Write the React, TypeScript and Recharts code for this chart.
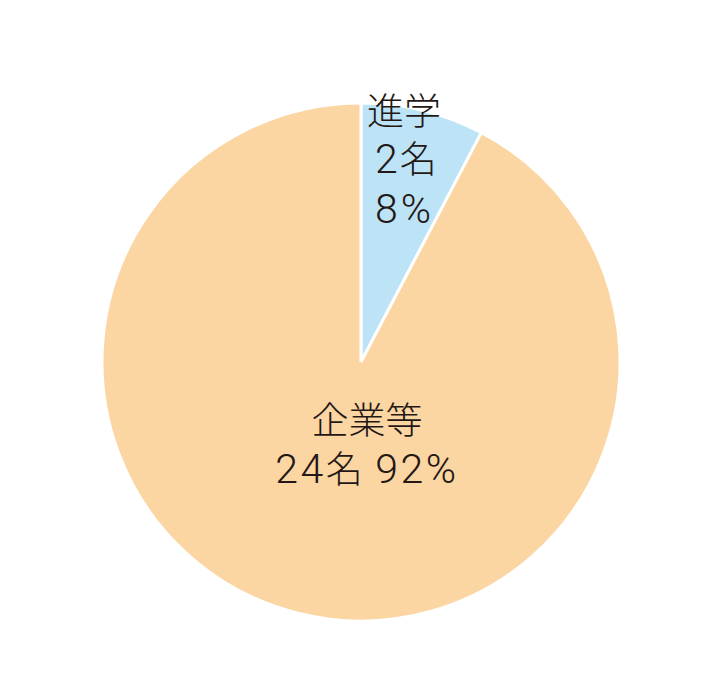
import React from 'react';
import { PieChart, Pie, Cell } from 'recharts';

const categories = ['進学', '企業等'];
const counts = [2, 24];
const percents = ['8%', '92%'];

const COLORS = ['#bde3f7', '#fbd5a2'];
const TEXT = '#231815';
const LATIN = 'Roboto, "Liberation Sans", sans-serif';
const CJK = '"Noto Sans CJK JP", sans-serif';
const KANJI_SIZE = 37;
const DIGIT_SIZE = 41;

const data = categories.map((name, i) => ({ name, value: counts[i], pct: percents[i] }));

const renderLabel = (props: any) => {
    const { cx, cy, index } = props;
    const d = data[index];
    if (index === 0) {
        const x = cx + 6;
        return (
            <text x={x} y={cy - 237} fill={TEXT} fontWeight={300} textAnchor="start">
                <tspan x={x} y={cy - 237} fontFamily={CJK} fontSize={KANJI_SIZE}>{d.name}</tspan>
                <tspan x={x + 8} y={cy - 189} fontFamily={LATIN} fontSize={DIGIT_SIZE} letterSpacing={2}>{d.value}</tspan>
                <tspan fontFamily={CJK} fontSize={KANJI_SIZE}>名</tspan>
                <tspan x={x + 8} y={cy - 139} fontFamily={LATIN} fontSize={DIGIT_SIZE} letterSpacing={3}>{d.pct}</tspan>
            </text>
        );
    }
    const x = cx + 6;
    return (
        <text x={x} y={cy + 72} fill={TEXT} fontWeight={300} textAnchor="middle">
            <tspan x={x} y={cy + 72} fontFamily={CJK} fontSize={KANJI_SIZE}>{d.name}</tspan>
            <tspan x={x} y={cy + 121} fontFamily={LATIN} fontSize={DIGIT_SIZE} letterSpacing={2.5}>{d.value}</tspan>
            <tspan fontFamily={CJK} fontSize={KANJI_SIZE}>名</tspan>
            <tspan fontFamily={LATIN} fontSize={DIGIT_SIZE} letterSpacing={2.5}>{` ${d.pct}`}</tspan>
        </text>
    );
};

const App: React.FC = () => {
    return (
        <div style={{ position: 'absolute', left: 0, top: 0, width: 720, height: 678, background: '#fff' }}>
            <PieChart width={720} height={678} margin={{ top: 0, right: 0, bottom: 0, left: 0 }}>
                <Pie
                    data={data}
                    cx={361}
                    cy={362}
                    outerRadius={259}
                    startAngle={90}
                    endAngle={-270}
                    dataKey="value"
                    nameKey="name"
                    stroke="#ffffff"
                    strokeWidth={3}
                    label={renderLabel}
                    labelLine={false}
                    isAnimationActive={false}
                >
                    {data.map((entry, index) => (
                        <Cell key={`cell-${index}`} fill={COLORS[index]} />
                    ))}
                </Pie>
            </PieChart>
        </div>
    );
};

export default App;
